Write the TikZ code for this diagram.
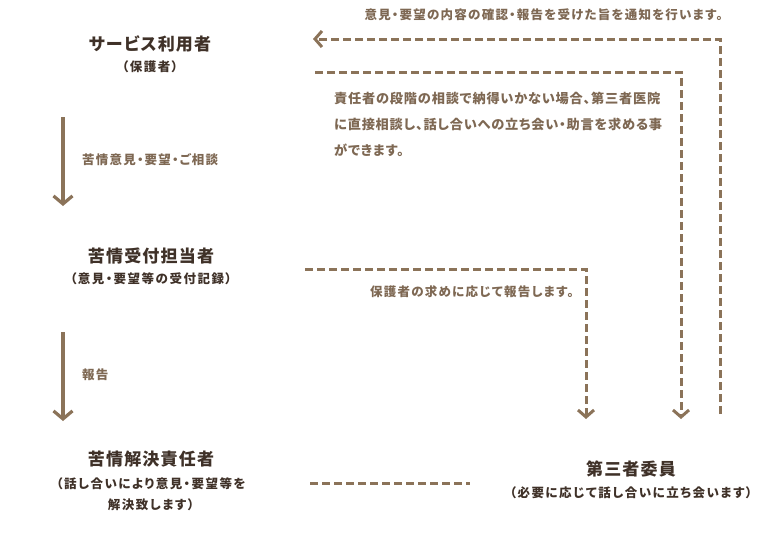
\documentclass[tikz,border=0pt]{standalone}
\usepackage{fontspec}
\usetikzlibrary{arrows.meta}
\newfontfamily\jpt[RawFeature=+palt, LetterSpace=7]{Noto Sans CJK JP}
\newfontfamily\jps[RawFeature=+palt, LetterSpace=12]{Noto Sans CJK JP}
\newfontfamily\jpl[RawFeature=+palt, LetterSpace=10]{Noto Sans CJK JP}
\newfontfamily\jpb[RawFeature=+palt, LetterSpace=6]{Noto Sans CJK JP}
\definecolor{titlec}{HTML}{3F3128}
\definecolor{labelc}{HTML}{7E6853}
\definecolor{linec}{HTML}{8B7359}
\tikzset{
  x=1pt, y=-1pt,
  title/.style={font=\jpt\bfseries\fontsize{17}{20}\selectfont, text=titlec, inner sep=0pt},
  sub/.style={font=\jps\bfseries\fontsize{12.5}{21}\selectfont, text=titlec, inner sep=0pt, align=center},
  lbl/.style={font=\jpl\bfseries\fontsize{12.5}{15}\selectfont, text=labelc, inner sep=0pt},
  flow/.style={draw=linec, line width=3.2pt, -{Straight Barb[length=8pt, width=19pt, line width=3.2pt]}},
  dline/.style={draw=linec, line width=3pt, dash pattern=on 8pt off 4pt},
  darrow/.style={dline, -{Straight Barb[length=7pt, width=16pt, line width=3pt]}}
}
\begin{document}
\begin{tikzpicture}
\useasboundingbox (0,0) rectangle (780,538);
% nodes
\node[title] (user) at (150,44) {サービス利用者};
\node[sub] (userSub) at (150,67) {（保護者）};
\node[title] (recv) at (151,256) {苦情受付担当者};
\node[sub] (recvSub) at (151,279) {（意見・要望等の受付記録）};
\node[title] (resp) at (151,459) {苦情解決責任者};
\node[sub] (respSub) at (151,494) {（話し合いにより意見・要望等を\\解決致します）};
\node[title] (third) at (631,469) {第三者委員};
\node[sub] (thirdSub) at (631,493) {（必要に応じて話し合いに立ち会います）};
% labels
\node[lbl, anchor=west] (l1) at (82,160) {苦情意見・要望・ご相談};
\node[lbl, anchor=west] (l2) at (82,375) {報告};
\node[lbl, anchor=east] (l3) at (574,292) {保護者の求めに応じて報告します。};
\node[lbl, anchor=east] (l4) at (723,15) {意見・要望の内容の確認・報告を受けた旨を通知を行います。};
\node[lbl, anchor=north west, align=left, font=\jpb\bfseries\fontsize{13.2}{26}\selectfont] (l5) at (334,92)
  {責任者の段階の相談で納得いかない場合、第三者医院\\に直接相談し、話し合いへの立ち会い・助言を求める事\\ができます。};
% coordinates
\coordinate (a1s) at (63,117);
\coordinate (a1e) at (63,206);
\coordinate (a2s) at (63,332);
\coordinate (a2e) at (63,421);
\coordinate (d1s) at (305,269);
\coordinate (d1e) at (586,419);
\coordinate (d2s) at (315,72);
\coordinate (d2e) at (681,419);
\coordinate (d3s) at (720,414);
\coordinate (d3e) at (313,39);
\coordinate (d4s) at (310,483);
\coordinate (d4e) at (470,483);
% connectors
\draw[flow] (a1s) -- (a1e);
\draw[flow] (a2s) -- (a2e);
\draw[darrow] (d1s) -| (d1e);
\draw[darrow] (d2s) -| (d2e);
\draw[darrow] (d3s) |- (d3e);
\draw[dline] (d4s) -- (d4e);
\end{tikzpicture}
\end{document}
